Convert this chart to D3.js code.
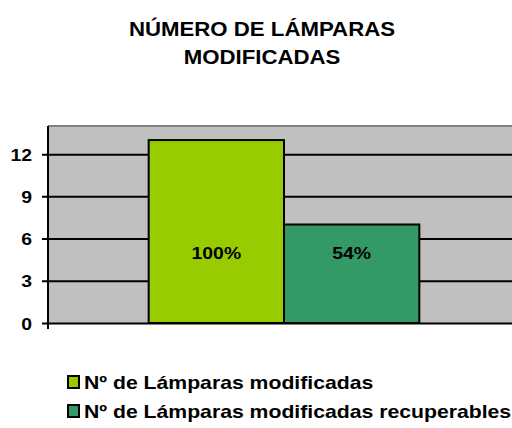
<!DOCTYPE html>
<html>
<head>
<meta charset="utf-8">
<script src="https://cdn.jsdelivr.net/npm/d3@7"></script>
<style>
  html, body { margin: 0; padding: 0; background: #ffffff; }
  svg { display: block; }
  text { font-family: Arial, "Liberation Sans", sans-serif; font-weight: bold; fill: #000; }
</style>
</head>
<body>
<svg id="chart" width="512" height="428"></svg>
<script>
// Chart data
const titleLines = ["NÚMERO DE LÁMPARAS", "MODIFICADAS"];
const seriesNames = ["Nº de Lámparas modificadas", "Nº de Lámparas modificadas recuperables"];
const seriesValues = [13, 7];
const seriesLabels = ["100%", "54%"];
const seriesColors = ["#99cc00", "#339966"];
const yTicks = [0, 3, 6, 9, 12];
const yMax = 14;
const labelLevel = 5; // value at which the percentage labels sit

// text in this chart is drawn slightly wide
const stretch = 1.14;

const svg = d3.select("#chart");

const plot = { left: 48, top: 126, right: 520, bottom: 323 };

const y = d3.scaleLinear().domain([0, yMax]).range([plot.bottom, plot.top]);

// one category holding both series side by side
const x0 = d3.scaleBand().domain(["grupo"]).range([plot.left, plot.right]).paddingInner(0).paddingOuter(0.372);
const x1 = d3.scaleBand().domain(seriesNames).range([0, x0.bandwidth()]).padding(0);

// places a wide text at (x, y)
function wideText(parent, x, yPos, str, size, anchor) {
  return parent.append("text")
    .attr("transform", `translate(${x},${yPos}) scale(${stretch},1)`)
    .attr("text-anchor", anchor || "start")
    .attr("dy", "0.36em")
    .style("font-size", size + "px")
    .text(str);
}

// title
const titleRows = [29, 57];
titleLines.forEach((t, i) => wideText(svg, 262, titleRows[i], t, 19.5, "middle"));

// plot background
svg.append("rect")
  .attr("x", plot.left).attr("y", plot.top)
  .attr("width", plot.right - plot.left).attr("height", plot.bottom - plot.top)
  .attr("fill", "#c0c0c0");
svg.append("line")
  .attr("x1", plot.left).attr("x2", plot.right)
  .attr("y1", plot.top).attr("y2", plot.top)
  .attr("stroke", "#808080").attr("stroke-width", 2);

// y axis with full-width gridlines
const yAxis = d3.axisLeft(y)
  .tickValues(yTicks)
  .tickSize(-(plot.right - plot.left))
  .tickFormat(d3.format("d"));

const gy = svg.append("g")
  .attr("transform", `translate(${plot.left},0)`)
  .call(yAxis);
gy.select(".domain").remove();
gy.selectAll(".tick line")
  .attr("x1", -6)
  .attr("stroke", "#000").attr("stroke-width", 2);
gy.selectAll(".tick text").remove();
gy.selectAll(".tick").each(function (d) {
  wideText(d3.select(this), -16, 0, d3.format("d")(d), 17, "end");
});

// bars
const bars = svg.append("g")
  .attr("transform", `translate(${x0("grupo")},0)`);
bars.selectAll("rect").data(seriesValues).join("rect")
  .attr("x", (d, i) => x1(seriesNames[i]))
  .attr("y", d => y(d))
  .attr("width", x1.bandwidth())
  .attr("height", d => y(0) - y(d))
  .attr("fill", (d, i) => seriesColors[i])
  .attr("stroke", "#000").attr("stroke-width", 2);

// vertical axis line drawn over the gridlines
svg.append("line")
  .attr("x1", plot.left).attr("x2", plot.left)
  .attr("y1", plot.top).attr("y2", plot.bottom + 6)
  .attr("stroke", "#000").attr("stroke-width", 2);

// percentage labels
seriesLabels.forEach((lab, i) => {
  wideText(bars, x1(seriesNames[i]) + x1.bandwidth() / 2, y(labelLevel), lab, 17, "middle");
});

// legend
const legend = svg.append("g").attr("transform", "translate(67,0)");
const rowY = [382, 411];
seriesNames.forEach((name, i) => {
  const row = legend.append("g").attr("transform", `translate(0,${rowY[i]})`);
  row.append("rect")
    .attr("x", 1).attr("y", -6)
    .attr("width", 11).attr("height", 12)
    .attr("fill", seriesColors[i])
    .attr("stroke", "#000").attr("stroke-width", 2);
  wideText(row, 17, 0, name, 18.6, "start");
});
</script>
</body>
</html>
